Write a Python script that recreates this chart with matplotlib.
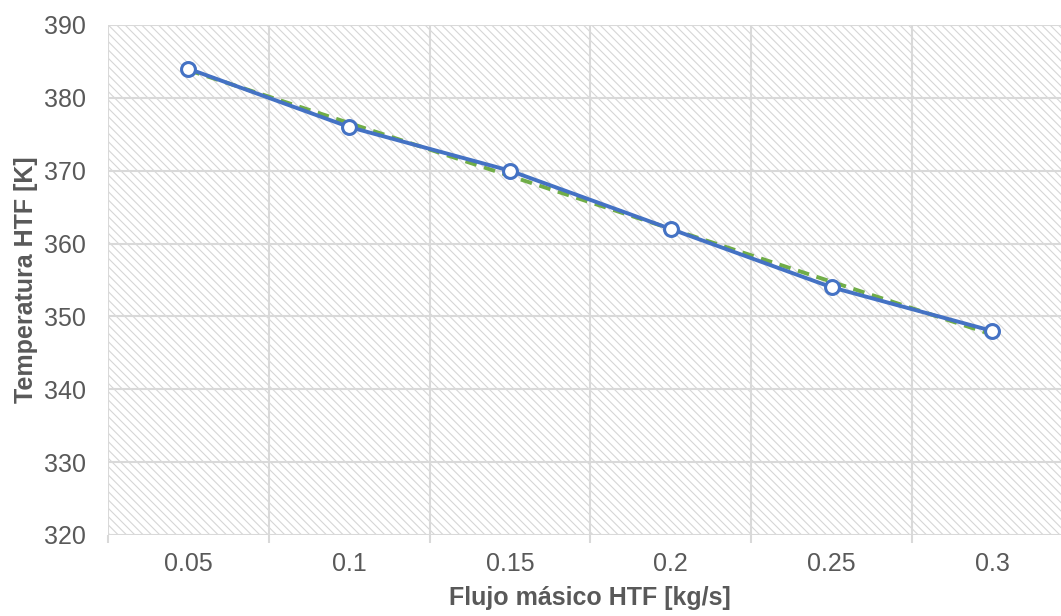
import numpy as np
import matplotlib
matplotlib.use('Agg')
import matplotlib.pyplot as plt

# data
flujo = ['0.05', '0.1', '0.15', '0.2', '0.25', '0.3']
temperatura = [384, 376, 370, 362, 354, 348]
# linear trend line (green dashed), start and end values
tendencia = [383.8, 347.5]

plt.rcParams['font.family'] = ['Liberation Sans', 'DejaVu Sans']
plt.rcParams['hatch.linewidth'] = 0.8
plt.rcParams['hatch.color'] = '#d6d6d6'

grey = '#595959'
grid_c = '#d9d9d9'

fig = plt.figure(figsize=(10.61, 6.16), dpi=100)
ax = fig.add_axes([108/1061, 1 - 535/616, 1 - 108/1061, (535 - 25)/616])

ax.patch.set_facecolor('white')
ax.patch.set_hatch('\\\\\\\\')
ax.patch.set_edgecolor('#d6d6d6')
ax.patch.set_linewidth(0)

x = np.arange(len(flujo))
ax.plot([x[0], x[-1]], tendencia, color='#70AD47', lw=2.8, ls=(0, (3, 2)), zorder=3)
ax.plot(x, temperatura, color='#4472C4', lw=2.8, marker='o', ms=10,
        mfc='white', mec='#4472C4', mew=2.2, zorder=4)

ax.set_yticks(np.arange(320, 391, 10))
ax.set_xticks(x)
ax.set_xticklabels(flujo)
ax.set_xticks(np.arange(-0.5, len(flujo)), minor=True)
ax.set_ylim(320, 390)
ax.set_xlim(-0.5, -0.5 + (1061 - 108) / 160.8)

for s in ax.spines.values():
    s.set_visible(False)

ax.grid(True, axis='y', which='major', color=grid_c, lw=1.5)
ax.grid(True, axis='x', which='minor', color=grid_c, lw=1.5)
ax.set_axisbelow(True)

ax.tick_params(axis='x', which='major', length=0, pad=12, labelsize=18, labelcolor=grey)
ax.tick_params(axis='x', which='minor', length=6, width=1.5, color=grid_c)
ax.tick_params(axis='y', length=0, pad=16, labelsize=18, labelcolor=grey)
ax.axhline(320, color=grid_c, lw=2, zorder=2)

ax.set_xlabel('Flujo másico HTF [kg/s]', fontsize=18, fontweight='bold', color=grey, labelpad=6)
ax.xaxis.set_label_coords((590 - 108) / 953, -0.1)
ax.set_ylabel('Temperatura HTF [K]', fontsize=18, fontweight='bold', color=grey, labelpad=4)

fig.savefig('out.png', dpi=100)
